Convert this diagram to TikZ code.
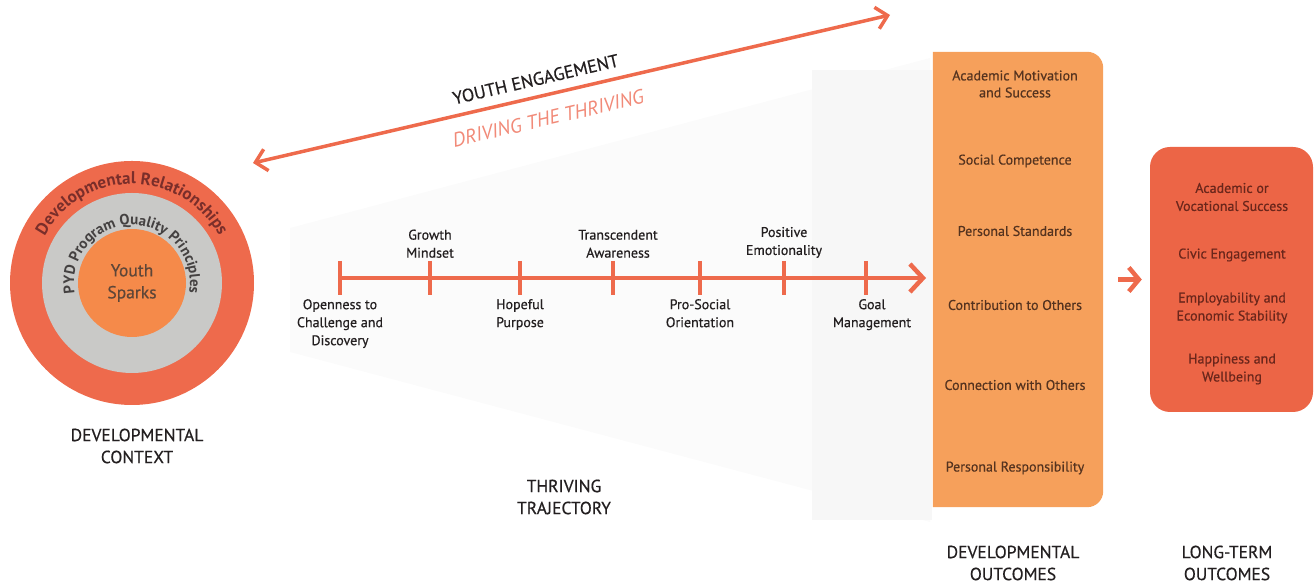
\documentclass[tikz,border=0pt]{standalone}
\usepackage{fontspec}
\setmainfont{PT Sans}
\newfontfamily\midfont{PT Sans}[FakeBold=0.5]
\usetikzlibrary{positioning,arrows.meta,decorations.text}

\definecolor{ringred}{HTML}{EE6A4C}
\definecolor{sparkorange}{HTML}{F58A4A}
\definecolor{ringgray}{HTML}{C9C9C7}
\definecolor{boxorange}{HTML}{F6A05B}
\definecolor{boxred}{HTML}{EC6546}
\definecolor{drivesalmon}{HTML}{F18A78}
\definecolor{inktext}{HTML}{231F20}
\definecolor{relink}{HTML}{7A2E2A}
\definecolor{boxink}{HTML}{55331F}
\definecolor{ltink}{HTML}{6A261B}
\definecolor{sparkink}{HTML}{5E4638}

\begin{document}
\begin{tikzpicture}[x=1pt,y=1pt,
	lbl/.style={font=\midfont\fontsize{14}{18}\selectfont, text=inktext, align=center, inner sep=1pt},
	caption/.style={font=\midfont\fontsize{17.5}{22}\selectfont, text=inktext, align=center},
	devtxt/.style={font=\midfont\fontsize{14}{17}\selectfont, text=boxink, align=center},
	lttxt/.style={font=\midfont\fontsize{14}{18}\selectfont, text=ltink, align=center},
	tick/.style={ringred, line width=3.5pt},
	track/.style={ringred, line width=4.5pt, -{Straight Barb[length=13pt,width=28pt]}},
	bothways/.style={ringred, line width=3.5pt, {Straight Barb[length=11pt,width=22pt]}-{Straight Barb[length=11pt,width=22pt]}},
	hop/.style={ringred, line width=4.5pt, -{Straight Barb[length=10pt,width=24pt]}}]
	\useasboundingbox (0,0) rectangle (1315,585);
	% faint funnel behind the trajectory
	\fill[gray!3] (290,357) -- (930,527) -- (930,63) -- (290,233) -- cycle;
	\fill[gray!6] (812,65) rectangle (932,515);

	% developmental context
	\node[circle, fill=ringred, minimum size=244pt, inner sep=0] (ctx) at (132,302) {};
	\node[circle, fill=ringgray, minimum size=180pt, inner sep=0] (pqp) at (ctx.center) {};
	\node[circle, fill=sparkorange, minimum size=108pt, inner sep=0, align=center,
		font=\midfont\fontsize{17.5}{22}\selectfont, text=sparkink] (spark) at (ctx.center) {Youth\\Sparks};
	\path[decorate, decoration={text along path, text align=center, text color=relink,
		text={|\bfseries\fontsize{17}{17}\selectfont|Developmental Relationships}}]
		([shift={(170:99)}]ctx.center) arc[start angle=170, end angle=10, radius=99];
	\path[decorate, decoration={text along path, text align=center, text color=inktext!85,
		text={|\bfseries\fontsize{15}{15}\selectfont|PYD Program Quality Principles}}]
		([shift={(200:58)}]ctx.center) arc[start angle=200, end angle=-20, radius=58];
	\node[caption] (ctxcap) at (137,139) {DEVELOPMENTAL\\CONTEXT};

	% youth engagement
	\coordinate (yeL) at (253,422);
	\coordinate (yeR) at (890,570);
	\draw[bothways] (yeL) -- (yeR)
		node[pos=0.45, sloped, above=6pt, font=\midfont\fontsize{18}{18}\selectfont, text=inktext] (yeng) {YOUTH ENGAGEMENT}
		node[pos=0.455, sloped, below=11pt, font=\fontsize{20}{20}\itshape, text=drivesalmon] (drive) {DRIVING THE THRIVING};

	% thriving trajectory
	\foreach \i/\x in {0/340,1/430,2/520,3/613,4/700,5/784,6/866}
		\coordinate (t\i) at (\x,307);
	\coordinate (tend) at (926,307);
	\draw[track] (t0) -- (tend);
	\foreach \i in {0,...,6}
		\draw[tick] ([yshift=17pt]t\i) -- ([yshift=-17pt]t\i);
	\node[lbl, below=20pt of t0] (open) {Openness to\\Challenge and\\Discovery};
	\node[lbl, above=19pt of t1] (grow) {Growth\\Mindset};
	\node[lbl, below=20pt of t2] (hope) {Hopeful\\Purpose};
	\node[lbl, above=19pt of t3, xshift=5pt] (trans) {Transcendent\\Awareness};
	\node[lbl, below=20pt of t4] (prosoc) {Pro-Social\\Orientation};
	\node[lbl, above=19pt of t5] (posemo) {Positive\\Emotionality};
	\node[lbl, below=20pt of t6, xshift=6pt] (goal) {Goal\\Management};
	\node[caption] (trajcap) at (564,88) {THRIVING\\TRAJECTORY};

	% developmental outcomes
	\node[minimum width=170pt, minimum height=455pt, inner sep=0] (devout) at (1018,305.5) {};
	\fill[boxorange] (devout.north) [rounded corners=16pt] -- (devout.north east) -- (devout.south east)
		-- (devout.south) [sharp corners] -- (devout.south west) -- (devout.north west) -- cycle;
	\node[devtxt] (acad) at (1015,501) {Academic Motivation\\and Success};
	\node[devtxt] (socomp) at (1015,424) {Social Competence};
	\node[devtxt] (perstd) at (1015,354) {Personal Standards};
	\node[devtxt] (contrib) at (1015,280) {Contribution to Others};
	\node[devtxt] (connect) at (1015,200) {Connection with Others};
	\node[devtxt] (persresp) at (1015,117) {Personal Responsibility};
	\node[caption] (devcap) at (1013,22) {DEVELOPMENTAL\\OUTCOMES};

	% long-term outcomes
	\node[fill=boxred, rounded corners=20pt, minimum width=163pt, minimum height=265pt, inner sep=0] (ltout) at (1231.5,305.5) {};
	\draw[hop, shorten <=15pt, shorten >=8pt] (devout.east) -- (ltout.west);
	\node[lttxt] (acvoc) at (1232,388) {Academic or\\Vocational Success};
	\node[lttxt] (civic) at (1232,330) {Civic Engagement};
	\node[lttxt] (employ) at (1232,277) {Employability and\\Economic Stability};
	\node[lttxt] (happy) at (1232,216) {Happiness and\\Wellbeing};
	\node[caption] (ltcap) at (1227,22) {LONG-TERM\\OUTCOMES};
\end{tikzpicture}
\end{document}
